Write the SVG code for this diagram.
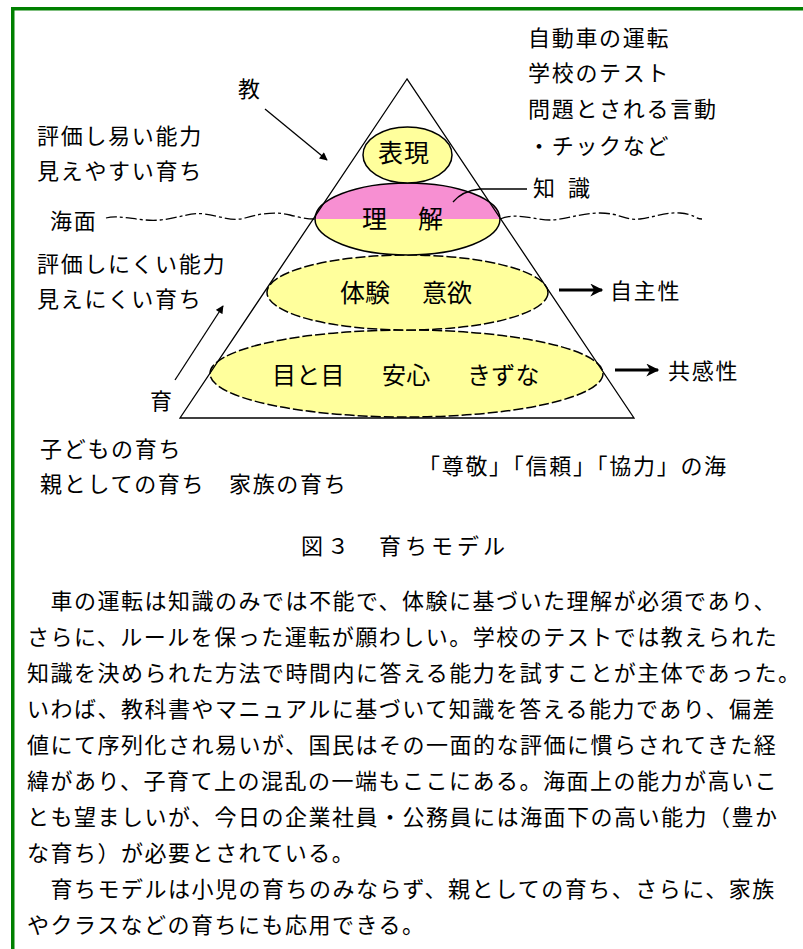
<svg xmlns="http://www.w3.org/2000/svg" width="803" height="949" viewBox="0 0 803 949">
<style>
.t{font-family:"Noto Sans CJK JP","Noto Sans CJK SC",sans-serif;fill:#000}
.l{font-size:22px;letter-spacing:1.7px}
.p{font-size:22px;letter-spacing:1.5px}
.e{font-size:25px}
.ol{fill:none;stroke:#000;stroke-width:1.5}
.ds{stroke-dasharray:10 3}
.yel{fill:#ffff9c}
.pink{fill:#f78fd2}
.sea{fill:none;stroke:#000;stroke-width:1.3;stroke-dasharray:11 3 3 3}
.thin{fill:none;stroke:#000;stroke-width:1.3}
.thick{fill:none;stroke:#000;stroke-width:3.2}
</style>
<defs>
<marker id="ah" viewBox="0 0 10 10" refX="9" refY="5" markerWidth="9" markerHeight="8" markerUnits="userSpaceOnUse" orient="auto">
<path d="M0,0 L10,5 L0,10 Z" fill="#000"/>
</marker>
<marker id="ahb" viewBox="0 0 10 10" refX="9" refY="5" markerWidth="16" markerHeight="13" markerUnits="userSpaceOnUse" orient="auto">
<path d="M0,0 L10,5 L0,10 L3,5 Z" fill="#000"/>
</marker>
</defs>
<rect width="803" height="949" fill="#fff"/>
<g id="frame">
<rect x="11" y="7" width="792" height="3.5" fill="#008000"/>
<rect x="11" y="7" width="3.5" height="942" fill="#008000"/>
</g>

<g id="sea-line">
<path class="sea" d="M106,218 C120,214 140,222 160,220 S190,212 205,214 S232,222 245,218 S275,211 290,215 S310,219 315,219"/>
<path class="sea" d="M500,219 C515,212 535,220 550,220 S580,213 600,213 S625,221 640,219 S665,212 680,213 S695,219 702,219"/>
</g>

<g id="node-meto">
<ellipse class="yel" cx="406.5" cy="373.5" rx="196.5" ry="43.5"/>
<ellipse class="ol ds" cx="406.5" cy="373.5" rx="196.5" ry="43.5"/>
<text class="t" font-size="24" letter-spacing="0.3" x="272" y="384">目と目</text>
<text class="t" font-size="24" letter-spacing="0.3" x="382" y="384">安心</text>
<text class="t" font-size="24" letter-spacing="0.3" x="467" y="384">きずな</text>
</g>

<g id="node-taiken">
<ellipse class="yel" cx="407.5" cy="292.5" rx="140.5" ry="37.5"/>
<ellipse class="ol ds" cx="407.5" cy="292.5" rx="140.5" ry="37.5"/>
<text class="t e" x="340" y="301.5">体験</text>
<text class="t e" x="422" y="301.5">意欲</text>
</g>

<g id="node-rikai">
<ellipse class="yel" cx="407.5" cy="219" rx="92.5" ry="36"/>
<path class="pink" d="M315,219 A92.5,36 0 0 1 500,219 Z"/>
<ellipse class="ol" cx="407.5" cy="219" rx="92.5" ry="36"/>
<text class="t e" x="362 418" y="227.5">理解</text>
</g>

<g id="node-hyogen">
<ellipse class="yel" cx="407.5" cy="155" rx="44.5" ry="28"/>
<ellipse class="ol" cx="407.5" cy="155" rx="44.5" ry="28"/>
<text class="t e" letter-spacing="1" x="378" y="161.5">表現</text>
</g>

<g id="pyramid">
<path d="M407,79 L180,418 L634,418 Z" fill="none" stroke="#000" stroke-width="1.3"/>
</g>

<g id="connectors">
<path class="thin" d="M265,109 L327,160" marker-end="url(#ah)"/>
<path class="thin" d="M175,380 L223,306" marker-end="url(#ah)"/>
<path class="thin" d="M453,202 Q462,191 480,189 L527,189"/>
<path class="thick" d="M559,290 L602,290" marker-end="url(#ahb)"/>
<path class="thick" d="M615,370 L658,370" marker-end="url(#ahb)"/>
</g>

<g id="labels">
<text class="t l" x="528" y="45.5">自動車の運転</text>
<text class="t l" x="528" y="80.5">学校のテスト</text>
<text class="t l" x="528" y="116.5">問題とされる言動</text>
<text class="t l" x="528" y="153.5">・チックなど</text>
<text class="t l" x="238" y="96.5">教</text>
<text class="t l" x="37" y="143.5">評価し易い能力</text>
<text class="t l" x="37" y="178.5">見えやすい育ち</text>
<text class="t l" x="533 568" y="195.5">知識</text>
<text class="t l" x="50" y="228.5">海面</text>
<text class="t l" x="37" y="271.5">評価しにくい能力</text>
<text class="t l" x="37" y="306.5">見えにくい育ち</text>
<text class="t l" x="610" y="298.5">自主性</text>
<text class="t l" x="668" y="378.5">共感性</text>
<text class="t l" x="150" y="408.5">育</text>
<text class="t l" x="40" y="456.5">子どもの育ち</text>
<text class="t l" x="40" y="491.5">親としての育ち　家族の育ち</text>
<text class="t l" letter-spacing="1.3" x="418" y="473.5">「尊敬」「信頼」「協力」の海</text>
</g>

<g id="caption">
<text class="t" font-size="22" letter-spacing="4" x="405" y="553.5" text-anchor="middle">図３　育ちモデル</text>
</g>

<g id="paragraph">
<text class="t p" x="27" y="608.5">　車の運転は知識のみでは不能で、体験に基づいた理解が必須であり、</text>
<text class="t p" x="27" y="644.5">さらに、ルールを保った運転が願わしい。学校のテストでは教えられた</text>
<text class="t p" x="27" y="680.5">知識を決められた方法で時間内に答える能力を試すことが主体であった。</text>
<text class="t p" x="27" y="716.5">いわば、教科書やマニュアルに基づいて知識を答える能力であり、偏差</text>
<text class="t p" x="27" y="752.5">値にて序列化され易いが、国民はその一面的な評価に慣らされてきた経</text>
<text class="t p" x="27" y="788.5">緯があり、子育て上の混乱の一端もここにある。海面上の能力が高いこ</text>
<text class="t p" x="27" y="824.5">とも望ましいが、今日の企業社員・公務員には海面下の高い能力（豊か</text>
<text class="t p" x="27" y="860.5">な育ち）が必要とされている。</text>
<text class="t p" x="27" y="896.5">　育ちモデルは小児の育ちのみならず、親としての育ち、さらに、家族</text>
<text class="t p" x="27" y="932.5">やクラスなどの育ちにも応用できる。</text>
</g>
</svg>
